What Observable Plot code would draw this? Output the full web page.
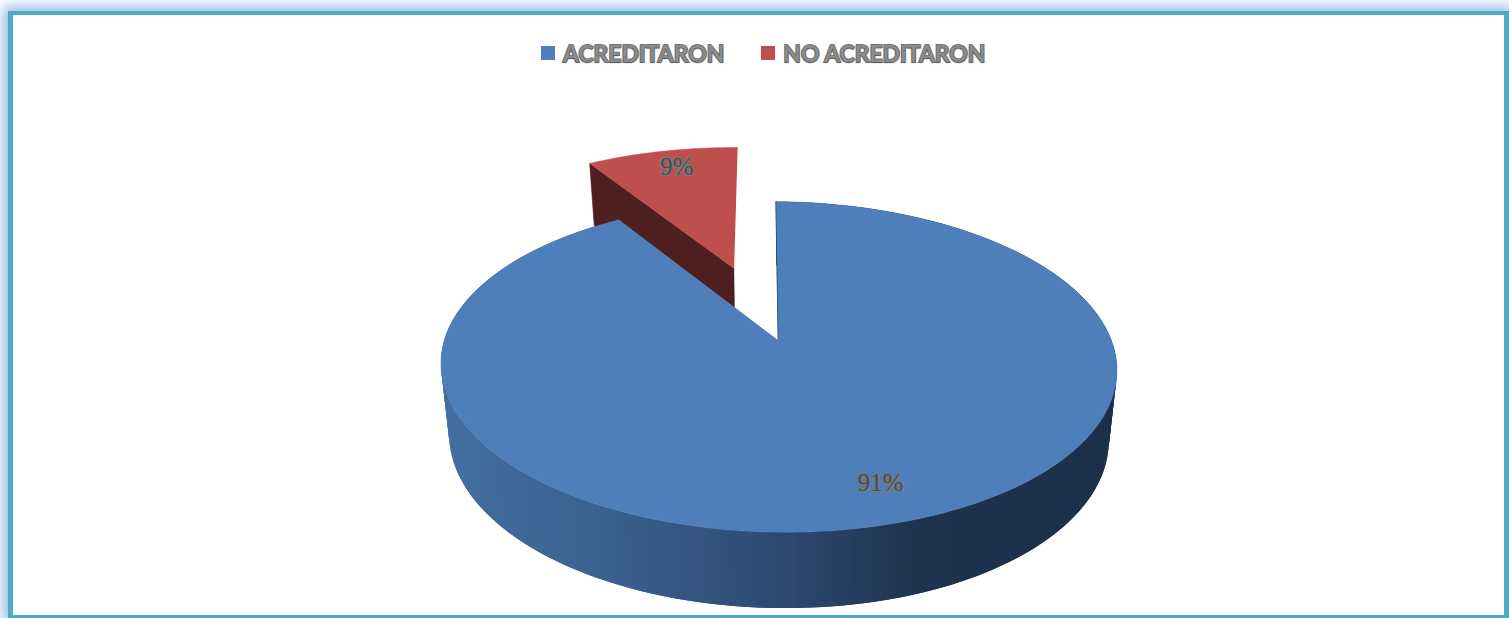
<!DOCTYPE html>
<html lang="es">
<head>
<meta charset="utf-8">
<title>Acreditaron / No acreditaron</title>
<script src="https://cdn.jsdelivr.net/npm/d3@7"></script>
<script src="https://cdn.jsdelivr.net/npm/@observablehq/plot@0.6"></script>
<style>
  html, body { margin: 0; padding: 0; background: #fff; overflow: hidden; }
  #page { position: relative; width: 1509px; height: 618px; overflow: hidden; background: #fff; }
  #frame {
    position: absolute; left: 8px; top: 11px; right: 0; bottom: 0;
    box-sizing: border-box; background: #fff;
    border-style: solid; border-color: #4bacc6; border-width: 4px 5px 3px 5px;
    box-shadow: 0 0 12px 5px rgba(110,160,225,.7);
  }
  #legend {
    position: relative; height: 82px; box-sizing: border-box;
    padding: 24px 0 0 541px; display: flex; align-items: center;
    font: 700 22.9px Lato, "Open Sans", sans-serif;
    color: #8b8b8b; -webkit-text-stroke: 1.8px #777; paint-order: stroke fill;
    text-shadow: 0 1px 2px rgba(0,0,0,.3);
  }
  #legend .sw { width: 14px; height: 14px; margin-right: 8px; flex: none; }
  #legend .lab { white-space: nowrap; }
  #chart { position: relative; display: block; }
</style>
</head>
<body>
<div id="page">
  <div id="frame"></div>
  <div id="legend"></div>
  <div id="chart"></div>
</div>
<script>
// ---- data ----
const categories = ["ACREDITARON", "NO ACREDITARON"];
const shares = [91, 9];
const labels = ["91%", "9%"];
const topColors = ["#4e7fbb", "#bf4f4c"];
const redWall = "#4d1f1f";
const wallEdge = "#1b3049";
const wallStopX = [-1, -0.53, 0, 0.22, 0.43, 1];
const wallStopColor = ["#446fa0", "#3b6190", "#2c4b71", "#273f60", "#1e334f", "#1c3049"];

// ---- pie geometry: d3.pie angles, pulled slice, tilted perspective ----
const slices = d3.pie().sort(null)(shares);
const k = 0.16;                       // perspective of the pie plane
const pull = 0.5;                     // explosion of the small slice
const depth = 0.43, depthK = 0.088, depthShrink = 0.976;

const polar = (a, r) => [r * Math.sin(a), r * Math.cos(a)];
function project(u, v) {
  const x = u / (1 + k * v), y = v / (1 + k * v);
  return {x: x - 0.008 * y, y: y - 0.0124 * x};
}
function projectLow(u, v) {
  const p = project(u, v);
  return {x: p.x * depthShrink, y: p.y - depth / (1 + depthK * v)};
}
const mid = s => (s.startAngle + s.endAngle) / 2;
const origin = s => s.index === 1 ? polar(mid(s), pull) : [0, 0];
function at(s, a, r) {
  const [ou, ov] = origin(s), [u, v] = polar(a, r);
  return [ou + u, ov + v];
}
function arcAngles(s) {
  const n = Math.ceil((s.endAngle - s.startAngle) / (Math.PI / 180));
  return d3.range(n + 1).map(i => s.startAngle + (s.endAngle - s.startAngle) * i / n);
}
function topFace(s) {
  const pts = [at(s, 0, 0), ...arcAngles(s).map(a => at(s, a, 1))];
  return pts.map(([u, v]) => ({...project(u, v), name: categories[s.index]}));
}

const wallColor = d3.scaleLinear().domain(wallStopX).range(wallStopColor);

// side of the big slice, as overlapping narrow strips following the horizontal shading
const bigAngles = arcAngles(slices[0]);
const wallRows = [];
bigAngles.slice(0, -2).forEach((a0, i) => {
  const p = at(slices[0], a0, 1), q = at(slices[0], bigAngles[i + 2], 1);
  const c = wallColor(project(...p).x);
  [project(...p), project(...q), projectLow(...q), projectLow(...p)]
    .forEach(pt => wallRows.push({...pt, strip: i, color: c}));
});

// side of the pulled slice, on its left radial edge
const red = slices[1];
const redEdge = at(red, red.startAngle, 1), redApex = at(red, 0, 0);
const redWallRows = [project(...redApex), project(...redEdge), projectLow(...redEdge), projectLow(...redApex)];

// the thin cut edge of the big slice seen through the gap
const cutRows = [project(0, 0), project(...at(slices[0], 0, 1))];

const labelAt = (s, r) => project(...at(s, mid(s), r));
const bigLabel = [{...labelAt(slices[0], 0.805), text: labels[0]}];
const smallLabel = [{...labelAt(slices[1], 0.845), text: labels[1]}];

const labelStyle = {
  text: "text", x: "x", y: "y",
  fontFamily: "'Liberation Serif', serif", fontSize: 25,
  fill: "#4a4a4a", stroke: "#7a7a7a", strokeWidth: 2.4, paintOrder: "stroke"
};

const chart = Plot.plot({
  width: 1509, height: 536,
  margin: 0,
  style: {background: "transparent", overflow: "visible"},
  x: {domain: [-1, 1], range: [778 - 333.6, 778 + 333.6], axis: null},
  y: {domain: [-1, 1], range: [258 + 161, 258 - 161], axis: null},
  color: {type: "identity"},
  marks: [
    Plot.line(redWallRows, {x: "x", y: "y", fill: redWall, stroke: redWall, strokeWidth: 0.6}),
    Plot.line(topFace(slices[1]), {x: "x", y: "y", fill: topColors[1], stroke: topColors[1], strokeWidth: 0.5}),
    Plot.line(wallRows, {x: "x", y: "y", z: "strip", fill: "color", stroke: null}),
    Plot.line(cutRows, {x: "x", y: "y", stroke: wallEdge, strokeWidth: 1.6}),
    Plot.line(topFace(slices[0]), {x: "x", y: "y", fill: topColors[0], stroke: topColors[0], strokeWidth: 0.5}),
    Plot.text(bigLabel, {...labelStyle, dx: 14}),
    Plot.text(smallLabel, {...labelStyle, dx: 5, dy: -1})
  ]
});
document.getElementById("chart").append(chart);

// legend
const legend = d3.select("#legend");
categories.forEach((name, i) => {
  legend.append("span").attr("class", "sw")
    .style("background", topColors[i])
    .style("margin-left", i ? "37px" : null);
  legend.append("span").attr("class", "lab").text(name);
});
</script>
</body>
</html>
